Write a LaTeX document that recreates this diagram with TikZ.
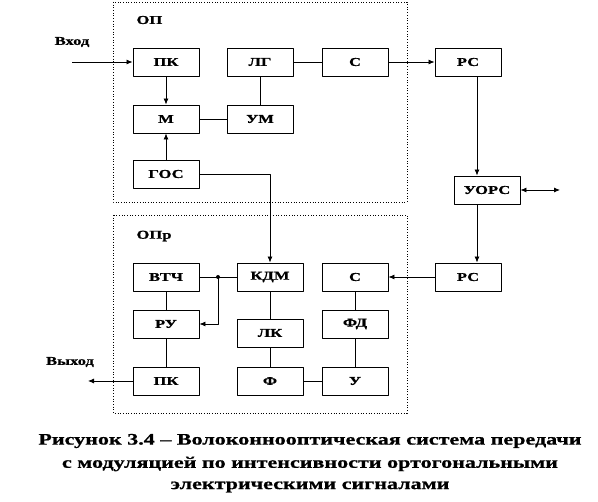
\documentclass[tikz,border=0pt]{standalone}
\usepackage{fontspec}
\setmainfont[FakeStretch=1.38, BoldFont={Liberation Serif Bold}, BoldFeatures={FakeBold=0.8}]{Liberation Serif}
\usetikzlibrary{arrows.meta}
\tikzset{
  blk/.style={draw, line width=0.9pt, minimum width=66pt, minimum height=28pt, inner sep=0pt, font=\fontsize{12}{14}\selectfont\bfseries},
  lbl/.style={font=\fontsize{12}{14}\selectfont\bfseries},
  capline/.style={font=\fontsize{16}{19}\selectfont\bfseries},
  frame/.style={dotted, line width=0.7pt},
  wire/.style={line width=0.8pt},
  arr/.style={wire, -{Latex[length=6pt,width=5pt]}},
}
\begin{document}
\begin{tikzpicture}[x=1pt, y=-1pt, line join=round]
\useasboundingbox (0,0) rectangle (598,502);
\draw[frame] (113,2) rectangle (407,202);
\draw[frame] (113,215) rectangle (407,413);
\node[lbl, anchor=west] (op) at (133,20) {ОП};
\node[lbl, anchor=west] (opr) at (133,236) {ОПр};

\node[blk] (pk1) at (166,62) {ПК};
\node[blk] (lg) at (260,62) {ЛГ};
\node[blk] (s1) at (355,62) {С};
\node[blk] (rs1) at (468,62) {РС};
\node[blk] (m) at (166,119) {М};
\node[blk] (um) at (260,119) {УМ};
\node[blk] (gos) at (166,174) {ГОС};
\node[blk] (uors) at (487,190) {УОРС};

\node[blk] (rs2) at (468,277) {РС};
\node[blk] (vtch) at (166,277) {ВТЧ};
\node[blk] (kdm) at (270,277) {КДМ};
\node[blk] (s2) at (355,277) {С};
\node[blk] (ru) at (166,324) {РУ};
\node[blk] (lk) at (270,333) {ЛК};
\node[blk] (fd) at (355,324) {ФД};
\node[blk] (pk2) at (166,381) {ПК};
\node[blk] (f) at (270,381) {Ф};
\node[blk] (u) at (355,381) {У};

\coordinate (in) at (72,62);
\coordinate (out) at (88,381);
\coordinate (ext) at (560,190);
\coordinate (v) at (477,0);
\coordinate (j) at (218,277);
\node[lbl] (vhod) at (72,42) {Вход};
\node[lbl] (vyhod) at (70,362) {Выход};

\draw[arr] (in) -- (pk1.west);
\draw[arr] (pk1) -- (m);
\draw[arr] (gos) -- (m);
\draw[wire] (lg) -- (um);
\draw[wire] (m) -- (um);
\draw[wire] (lg) -- (s1);
\draw[arr] (s1) -- (rs1);
\draw[arr] (gos.east) -| (kdm.north);
\draw[arr] (rs1.south -| v) -- (uors.north -| v);
\draw[arr] (uors.south -| v) -- (rs2.north -| v);
\draw[wire, {Latex[length=6pt,width=5pt]}-{Latex[length=6pt,width=5pt]}] (uors.east) -- (ext);
\draw[arr] (rs2) -- (s2);

\foreach \a/\b in {s2/fd, fd/u, u/f, f/lk, lk/kdm, vtch/ru, ru/pk2}
    \draw[wire] (\a) -- (\b);
\draw[wire] (vtch) -- (kdm);
\fill (j) circle (2pt);
\draw[arr] (j) |- (ru.east);
\draw[arr] (pk2) -- (out);

\node[capline] (cap1) at (310,441) {Рисунок 3.4 – Волоконнооптическая система передачи};
\node[capline] (cap2) at (310,464) {с модуляцией по интенсивности ортогональными};
\node[capline] (cap3) at (310,487) {электрическими сигналами};
\end{tikzpicture}
\end{document}
